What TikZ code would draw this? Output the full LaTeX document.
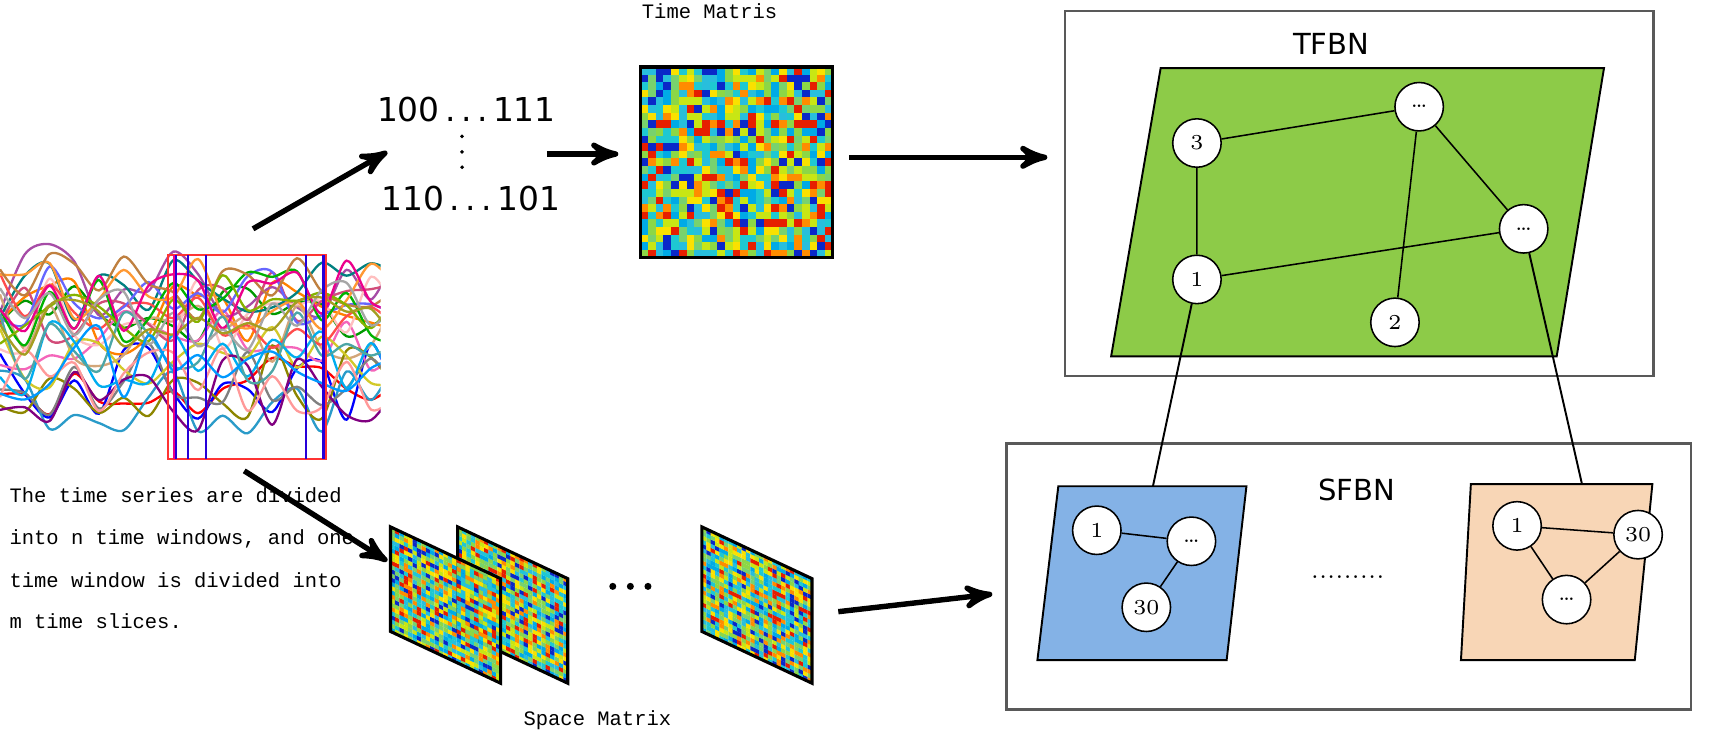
\documentclass[tikz,border=0pt]{standalone}
\usepackage{fontspec}
\usepackage{tikz}
\usetikzlibrary{arrows,calc,positioning}
\newfontfamily\monof{Liberation Mono}
\newfontfamily\sansf{DejaVu Sans}

\definecolor{hm0}{RGB}{10,40,200}
\definecolor{hm1}{RGB}{0,170,230}
\definecolor{hm2}{RGB}{30,200,210}
\definecolor{hm3}{RGB}{140,215,70}
\definecolor{hm4}{RGB}{200,230,20}
\definecolor{hm5}{RGB}{250,225,0}
\definecolor{hm6}{RGB}{255,140,0}
\definecolor{hm7}{RGB}{230,30,0}
\definecolor{hm8}{RGB}{120,210,110}
\definecolor{hm9}{RGB}{40,190,220}
\definecolor{tfbngreen}{RGB}{141,203,72}
\definecolor{sfbnblue}{RGB}{132,178,230}
\definecolor{sfbnpeach}{RGB}{248,214,182}

\newcommand\heatmap[1]{%
  \pgfmathsetseed{#1}%
  \foreach \i in {0,...,24}{\foreach \j in {0,...,24}{%
    \pgfmathtruncatemacro\c{random(0,9)}%
    \fill[hm\c] (\i/25,\j/25) -- ++(0.041,0) -- ++(0,0.041) -- ++(-0.041,0) -- cycle;}}%
  \draw[line width=0.8pt] (0,0) -- (1,0) -- (1,1) -- (0,1) -- cycle;}

\tikzset{
  bigarr/.style={->, line width=1.4pt},
  netnode/.style={circle, draw, fill=white, minimum size=0.44cm, inner sep=0pt, font=\fontsize{5.5}{6}\selectfont},
  monotxt/.style={font=\monof\fontsize{5.3}{6}\selectfont, anchor=west, inner sep=0pt},
  skewmat/.style={x={(1cm,-0.47cm)}, y={(0cm,0.95cm)}},
}

\begin{document}
\begin{tikzpicture}[>=stealth', x=0.01cm, y=-0.01cm]
\useasboundingbox (0,0) rectangle (1568,666);

% time series
\begin{scope}
  \clip (0,185) rectangle (346,425);
  \pgfmathsetseed{7}
  \foreach \col in {red,blue,green!60!black,orange,magenta!60,cyan!80!black,violet!70,brown!70,olive,pink,teal,gray,yellow!80!black,purple!70,red!70,blue!60,green!70!black,orange!80,cyan,violet,brown,lime!70!black,magenta,teal!70,gray!70,pink!80!red,olive!80,blue!40!cyan}{
    \pgfmathsetmacro\base{rnd*110+255}
    \draw[\col, line width=0.6pt] plot[smooth, domain=0:360, samples=17] (\x, {\base+rand*35});
  }
\end{scope}
\draw[red!80, line width=0.6pt] (153,232) rectangle (296,417);
\draw[magenta, line width=0.6pt] (158,232) -- (158,417);
\foreach \xx in {160,171,187,278,294}
  \draw[blue!70!violet, line width=0.6pt] (\xx,232) -- (\xx,417);

\node[monotxt] (txt1) at (8,450) {The time series are divided};
\node[monotxt] (txt2) at (8,490) {into n time windows, and one};
\node[monotxt] (txt3) at (8,527) {time window is divided into};
\node[monotxt] (txt4) at (8,565) {m time slices.};

% time branch
\node[font=\sansf\fontsize{8.5}{9}\selectfont] (bits1) at (424,100) {100\,.\,.\,.\,111};
\node[font=\sansf\fontsize{8.5}{9}\selectfont] (bits2) at (428,180) {110\,.\,.\,.\,101};
\foreach \yy in {124,138,152} \fill (420,\yy) circle (1.8);
\node[font=\monof\fontsize{5.3}{6}\selectfont] (tmlabel) at (645,10) {Time Matris};
\begin{scope}[shift={(582,234)}, x={(1.75cm,0cm)}, y={(0cm,1.73cm)}]
  \heatmap{3}
\end{scope}

\coordinate (ts1) at (230,208);
\coordinate (ts2) at (222,428);
\draw[bigarr] (ts1) -- (352,138);
\draw[bigarr] (497,140) -- (562,140);
\draw[bigarr] (772,143) -- (952,143);

% space branch
\begin{scope}[shift={(416,574)}, skewmat]
  \heatmap{21}
\end{scope}
\begin{scope}[shift={(355,574)}, skewmat]
  \heatmap{11}
\end{scope}
\begin{scope}[shift={(638,574)}, skewmat]
  \heatmap{31}
\end{scope}
\foreach \xx in {557,573,589} \fill (\xx,533) circle (3.2);
\node[font=\monof\fontsize{5.3}{6}\selectfont] (smlabel) at (543,655) {Space Matrix};
\draw[bigarr] (ts2) -- (352,510);
\draw[bigarr] (762,556) -- (902,540);

% TFBN
\draw[gray!70!black, line width=0.6pt] (968,10) rectangle (1503,342);
\node[font=\sansf\fontsize{7.5}{8}\selectfont] (tfbn) at (1210,40) {TFBN};
\draw[fill=tfbngreen, line width=0.5pt] (1055,62) -- (1458,62) -- (1415,324) -- (1010,324) -- cycle;
\node[netnode] (t3) at (1088,130) {3};
\node[netnode] (tdA) at (1290,97) {\dots};
\node[netnode] (tdB) at (1385,208) {\dots};
\node[netnode] (t1) at (1088,254) {1};
\node[netnode] (t2) at (1268,293) {2};
\draw (t3) -- (tdA) (t3) -- (t1) (t1) -- (tdB) (tdA) -- (tdB) (tdA) -- (t2);

% SFBN
\draw[gray!70!black, line width=0.6pt] (915,403) rectangle (1537,645);
\node[font=\sansf\fontsize{7.5}{8}\selectfont] (sfbn) at (1233,445) {SFBN};
\draw[fill=sfbnblue, line width=0.5pt] (962,442) -- (1133,442) -- (1115,600) -- (943,600) -- cycle;
\node[netnode] (b1n) at (997,482) {1};
\node[netnode] (bdn) at (1083,492) {\dots};
\node[netnode] (b30) at (1042,552) {30};
\draw (b1n) -- (bdn) (bdn) -- (b30);
\draw[fill=sfbnpeach, line width=0.5pt] (1337,440) -- (1502,440) -- (1486,600) -- (1328,600) -- cycle;
\node[netnode] (p1) at (1379,478) {1};
\node[netnode] (p30) at (1489,486) {30};
\node[netnode] (pdn) at (1424,545) {\dots};
\draw (p1) -- (p30) (p1) -- (pdn) (p30) -- (pdn);
\node[font=\fontsize{6}{7}\selectfont] (sdots) at (1225,525) {.........};

\coordinate (bluetop) at (1048,442);
\coordinate (peachtop) at (1438,440);
\draw[line width=0.5pt] (t1) -- (bluetop);
\draw[line width=0.5pt] (tdB) -- (peachtop);
\end{tikzpicture}
\end{document}
